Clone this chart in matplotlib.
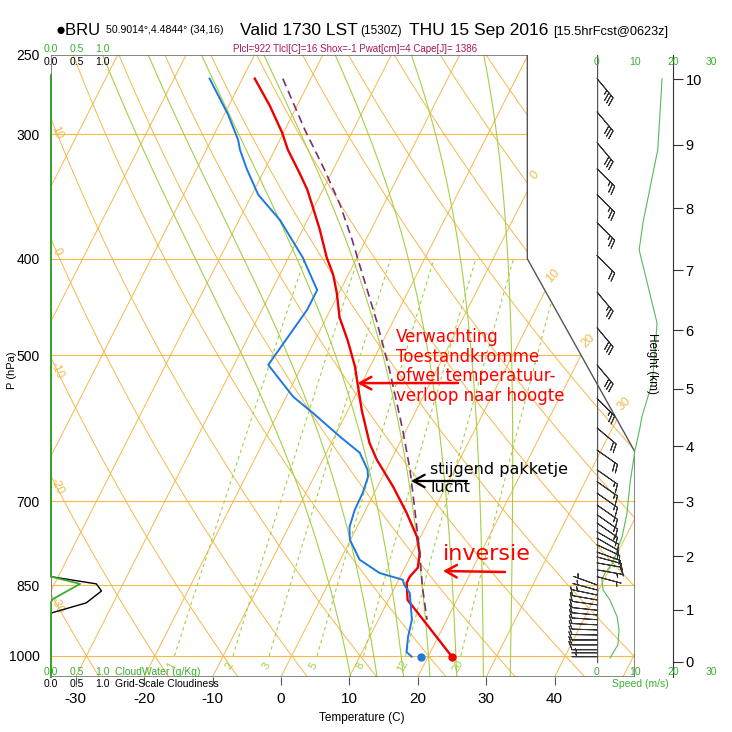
import numpy as np
import matplotlib
matplotlib.use('Agg')
import matplotlib.pyplot as plt
from matplotlib.patches import Polygon
from matplotlib.transforms import blended_transform_factory as blend

plt.rcParams['font.family'] = ['Liberation Sans', 'DejaVu Sans']

# temperatuur (rood)
p_temp = [264, 281, 299, 311, 328, 341, 355, 374, 399, 415, 433, 458, 483, 513, 533,
          567, 612, 636, 677, 719, 760, 789, 816, 833, 845, 879, 893, 1002]
t_temp = [-48.2, -44.0, -40.2, -38.1, -34.7, -32.3, -30.2, -27.5, -24.4, -22.2, -20.3,
          -18.1, -15.2, -12.2, -10.6, -8.0, -4.4, -2.1, 2.3, 6.2, 9.5, 11.1, 11.9,
          11.4, 11.4, 12.8, 14.1, 23.5]
# dauwpunt (blauw)
p_dew = [264, 287, 304, 311, 325, 345, 366, 399, 430, 450, 472, 511, 550, 571, 603,
         626, 651, 662, 687, 714, 743, 765, 801, 826, 839, 849, 865, 920, 957, 991, 1002]
td_dew = [-54.8, -49.4, -46.1, -45.1, -42.7, -39.1, -34.0, -27.9, -23.4, -23.4, -24.0,
          -25.0, -19.0, -14.9, -9.2, -5.1, -2.7, -2.1, -1.7, -1.6, -1.1, -0.1, 2.8,
          6.7, 10.6, 11.2, 12.6, 14.9, 15.6, 16.5, 17.6]
# stijgend pakketje
p_parcel = [264, 297, 326, 353, 383, 411, 461, 517, 594, 651, 709, 789, 853, 920]
t_parcel = [-44.1, -37.1, -31.2, -26.4, -22.0, -18.4, -12.5, -6.9, -0.5, 3.5, 6.9,
            11.1, 14.0, 17.1]
# oppervlakte
p_sfc = 1002
t_sfc = 23.5
td_sfc = 18.9

# windsnelheid (m/s)
p_speed = [264, 277, 311, 368, 392, 464, 494, 533, 576, 591, 622, 671, 719, 760,
           783, 807, 826, 839, 859, 879, 914, 942, 975, 1005]
speed = [17.1, 16.8, 16.0, 12.1, 11.1, 15.8, 15.3, 14.5, 11.8, 11.3, 10.0, 8.7, 7.9,
         6.6, 5.3, 4.2, 2.1, 1.3, 1.6, 3.4, 5.3, 5.8, 5.5, 3.4]

# windvaantjes (richting in graden, snelheid in knopen)
p_barb = [264, 285, 306, 325, 345, 368, 397, 432, 469, 511, 552, 591, 622, 651, 669,
          687, 706, 722, 736, 751, 762, 774, 787, 796, 807, 820, 833,
          849, 859, 869, 879, 889, 900, 910, 920, 931, 942, 953, 964, 975, 986, 993, 1002]
wdir = [140, 140, 140, 135, 135, 135, 135, 140, 140, 140, 135, 130, 125, 125, 125,
        125, 125, 125, 125, 120, 120, 115, 110, 105, 100, 100, 105,
        290, 285, 282, 280, 278, 276, 275, 274, 273, 272, 271, 270, 270, 270, 270, 270]
wspd = [33, 32, 30, 27, 25, 23, 22, 25, 30, 29, 27, 22, 20, 17, 16,
        15, 14, 14, 13, 12, 11, 10, 10, 9, 8, 7, 6,
        5, 6, 7, 8, 9, 10, 10, 10, 10, 10, 10, 10, 9, 8, 7, 6]

# bewolking
p_cloud = [262, 833, 847, 861, 885, 906, 1050]
cloudiness = [0, 0, 0.89, 0.99, 0.69, 0, 0]
p_cw = [262, 833, 847, 877, 883, 1050]
cloudwater = [0, 0, 0.57, 0.04, 0, 0]

pres_labels = [250, 300, 400, 500, 700, 850, 1000]
temp_ticks = [-30, -20, -10, 0, 10, 20, 30, 40]
height_km = list(range(11))
speed_ticks = [0, 10, 20, 30]
mix_ratios = [1, 2, 3, 5, 8, 12, 20]
moist_start = [8, 12, 16, 20, 24, 28, 32]

ORANGE = '#f3b94a'
LGREEN = '#a4cf47'
GREEN = '#3aae2e'


def yp(p):
    return 132.182 - 44.061 * np.log10(np.asarray(p, dtype=float))


def xt(t, p):
    return 0.54 * np.asarray(t, dtype=float) + 0.90692 * yp(p)


def esat(tc):
    return 6.1078 * np.exp(17.2693882 * tc / (tc + 237.3))


def wmix(tk, p):
    es = esat(tk - 273.15)
    return 622.0 * es / (p - es)


def os_of(tk, p):
    return tk * (1000.0 / p) ** 0.288 * np.exp(2.6518986 * wmix(tk, p) / tk)


def sat_adiabat(t0, pp):
    target = os_of(t0 + 273.15, 1000.0)
    lo = np.full(pp.shape, 173.15)
    hi = np.full(pp.shape, 318.15)
    for _ in range(60):
        mid = 0.5 * (lo + hi)
        above = os_of(mid, pp) > target
        hi = np.where(above, mid, hi)
        lo = np.where(above, lo, mid)
    return 0.5 * (lo + hi) - 273.15


W = 732
fig = plt.figure(figsize=(7.32, 7.32), dpi=100)


def fx(px):
    return px / W


def fy(py):
    return 1 - py / W


Y0, Y1 = float(yp(1050)), float(yp(250))
X0, X1 = -19.0, 27.1

ax = fig.add_axes([fx(51), fy(677), fx(635) - fx(51), fy(55) - fy(677)])
ax.set_xlim(X0, X1)
ax.set_ylim(Y0, Y1)
for s in ax.spines.values():
    s.set_visible(False)

frame = Polygon(np.column_stack([[X0, X1, X1, 18.6, 18.6, X0], [Y0, Y0, 9.0, 17.53, Y1, Y1]]),
                closed=True, fill=False, ec='#555555', lw=1.0, zorder=4)
ax.add_patch(frame)

pp = np.geomspace(1050, 250, 200)
yy = yp(pp)


def bx(y):
    return np.interp(y, [Y0, 9.0, 17.53, Y1], [X1, X1, 18.6, 18.6])


# isothermen
for t in range(-80, 60, 10):
    xs = xt(t, pp)
    ln, = ax.plot(xs, yy, color=ORANGE, lw=0.7, zorder=1)
    ln.set_clip_path(frame)
    if t in (0, 10, 20, 30):
        i = int(np.argmax(xs >= bx(yy)))
        ax.annotate(str(t), (xs[i], yy[i]), xytext=(5, 10), textcoords='offset points',
                    rotation=45, color=ORANGE, fontsize=9, ha='center', va='center')

# droog-adiabaten
for th in range(-40, 130, 10):
    tt = (th + 273.15) * (pp / 1000.0) ** 0.288 - 273.15
    xs = xt(tt, pp)
    ln, = ax.plot(xs, yy, color=ORANGE, lw=0.7, zorder=1)
    ln.set_clip_path(frame)
    if -30 <= th <= 10:
        i = int(np.argmax(xs <= -18.5))
        ax.text(xs[i], yy[i], str(th), rotation=-65, color=ORANGE, fontsize=8.5,
                ha='center', va='center')

# isobaren
for p in [300, 400, 500, 700, 850, 1000]:
    ln, = ax.plot([X0, X1], [yp(p), yp(p)], color=ORANGE, lw=0.8, zorder=1)
    ln.set_clip_path(frame)

# natte adiabaten
for t0 in moist_start:
    tm = sat_adiabat(t0, pp)
    ln, = ax.plot(xt(tm, pp), yy, color=LGREEN, lw=0.8, zorder=1)
    ln.set_clip_path(frame)

# mengverhoudingslijnen
pw = np.geomspace(1000, 400, 60)
for w in mix_ratios:
    e = w * pw / (622.0 + w)
    le = np.log(e / 6.112)
    tdw = 243.5 * le / (17.67 - le)
    ln, = ax.plot(xt(tdw, pw), yp(pw), color=LGREEN, lw=0.8, ls=(0, (3, 3)), zorder=1)
    ln.set_clip_path(frame)
    ax.text(xt(tdw[0], 1000) - 0.25, yp(1024), str(w), rotation=60, color=LGREEN,
            fontsize=8, ha='center', va='center')

# profielen
ax.plot(xt(t_temp, p_temp), yp(p_temp), color='#ee0000', lw=1.7, zorder=6)
ax.plot(xt(td_dew, p_dew), yp(p_dew), color='#1f78e0', lw=1.4, zorder=6)
ax.plot(xt(t_parcel, p_parcel), yp(p_parcel), color='#7b2f6e', lw=1.2,
        ls=(0, (5, 3)), zorder=6)
ax.plot(xt(t_sfc, p_sfc), yp(p_sfc), 'o', color='#ee0000', ms=5, zorder=7)
ax.plot(xt(td_sfc, p_sfc), yp(p_sfc), 'o', color='#1f78e0', ms=5, zorder=7)

ax.set_xticks(xt(temp_ticks, 1050))
ax.set_xticklabels([str(t) for t in temp_ticks])
ax.tick_params(axis='x', direction='out', length=6, width=0.8, color='#555555',
               labelsize=11, pad=5)
ax.set_yticks(yp(pres_labels))
ax.set_yticklabels([str(p) for p in pres_labels])
ax.tick_params(axis='y', length=0, pad=8, labelsize=10)

fig.text(fx(362), fy(718), 'Temperature (C)', fontsize=8.5, ha='center', va='center')
fig.text(fx(12), fy(370), 'P (hPa)', fontsize=8, rotation=90, ha='center', va='center')

# wind paneel
ax2 = fig.add_axes([fx(597), fy(677), fx(673) - fx(597), fy(55) - fy(677)])
ax2.set_xlim(0, 20)
ax2.set_ylim(Y0, Y1)
ax2.patch.set_visible(False)
for k in ('top', 'bottom', 'left'):
    ax2.spines[k].set_visible(False)
ax2.spines['right'].set_color('#333333')
ax2.set_xticks([])
p_h = 1013.25 * (1 - 2.25577e-5 * np.array(height_km) * 1000.0) ** 5.25588
ax2.yaxis.tick_right()
ax2.set_yticks(yp(p_h))
ax2.set_yticklabels([str(h) for h in height_km])
ax2.tick_params(axis='y', direction='out', length=7, width=0.8, color='#333333',
                labelsize=10.5, pad=2)
ax2.axvline(0, ymin=(yp(p_h[0]) - Y0) / (Y1 - Y0), ymax=1, color='#555555', lw=1.0)

ax2.plot(speed, yp(p_speed), color='#55bb55', lw=0.8, zorder=3)

rad = np.radians(wdir)
u = -np.array(wspd) * np.sin(rad)
v = -np.array(wspd) * np.cos(rad)
ax2.barbs(np.zeros(len(p_barb)), yp(p_barb), u, v, length=6.0, pivot='tip',
          lw=0.7, color='#333333', sizes=dict(height=0.33, spacing=0.13, emptybarb=0.0),
          clip_on=False, zorder=4)

tr2 = blend(ax2.transData, ax2.transAxes)
for s in speed_ticks:
    ax2.text(s, 1 - 7 / 622, str(s), transform=tr2, color=GREEN, fontsize=7.5,
             ha='center', va='center', clip_on=False)
    ax2.text(s, 5 / 622, str(s), transform=tr2, color=GREEN, fontsize=7.5,
             ha='center', va='center', clip_on=False)
fig.text(fx(640), fy(684), 'Speed (m/s)', color=GREEN, fontsize=7.5, ha='center', va='center')
fig.text(fx(652), fy(363), 'Height (km)', rotation=270, fontsize=8.5, ha='center', va='center')

# bewolking paneel
ax3 = fig.add_axes([fx(51), fy(677), fx(102) - fx(51), fy(55) - fy(677)])
ax3.set_xlim(0, 1)
ax3.set_ylim(Y0, Y1)
ax3.axis('off')
ax3.plot(cloudiness, yp(p_cloud), color='black', lw=1.0, clip_on=False, zorder=3)
ax3.plot(cloudwater, yp(p_cw), color=GREEN, lw=1.3, clip_on=False, zorder=4)
tr3 = blend(ax3.transData, ax3.transAxes)
for val in (0.0, 0.5, 1.0):
    ax3.text(val, 1 + 6 / 622, f'{val:.1f}', transform=tr3, color=GREEN, fontsize=7.5,
             ha='center', va='center')
    ax3.text(val, 1 - 7 / 622, f'{val:.1f}', transform=tr3, color='black', fontsize=7.5,
             ha='center', va='center')
    ax3.text(val, 5 / 622, f'{val:.1f}', transform=tr3, color=GREEN, fontsize=7.5,
             ha='center', va='center')
    ax3.text(val, -7 / 622, f'{val:.1f}', transform=tr3, color='black', fontsize=7.5,
             ha='center', va='center')
ax3.text(1.25, 5 / 622, 'CloudWater (g/Kg)', transform=tr3, color=GREEN, fontsize=7.5,
         ha='left', va='center')
ax3.text(1.25, -7 / 622, 'Grid-Scale Cloudiness', transform=tr3, color='black',
         fontsize=7.5, ha='left', va='center')

# titel
fig.text(fx(56), fy(35), '\u25cfBRU', fontsize=12, va='baseline')
fig.text(fx(106), fy(33), '50.9014\u00b0,4.4844\u00b0 (34,16)', fontsize=7.6, va='baseline')
fig.text(fx(240), fy(35), 'Valid 1730 LST', fontsize=12.5, va='baseline')
fig.text(fx(360), fy(34), '(1530Z)', fontsize=8.5, va='baseline')
fig.text(fx(409), fy(35), 'THU 15 Sep 2016', fontsize=12.5, va='baseline')
fig.text(fx(553), fy(35), '[15.5hrFcst@0623z]', fontsize=9.2, va='baseline')
fig.text(fx(233), fy(52), 'Plcl=922 Tlcl[C]=16 Shox=-1 Pwat[cm]=4 Cape[J]= 1386',
         fontsize=7, color='#a8155a', va='baseline')

# annotaties
fig.text(fx(396), fy(328), 'Verwachting\nToestandkromme\nofwel temperatuur-\nverloop naar hoogte',
         color='red', fontsize=12, family='DejaVu Sans', ha='left', va='top', linespacing=1.12)
ax.annotate('', xy=(xt(t_temp[14], p_temp[14]), yp(p_temp[14])), xycoords='data',
            xytext=(fx(458), fy(383)), textcoords='figure fraction',
            arrowprops=dict(arrowstyle='->,head_length=0.45,head_width=0.25', color='red',
                            lw=1.8, mutation_scale=18, shrinkA=0, shrinkB=0), zorder=8)

fig.text(fx(430), fy(462), 'stijgend pakketje\nlucht', color='black', fontsize=11.5,
         family='DejaVu Sans', ha='left', va='top', linespacing=1.25)
t_arrow = np.interp(668, p_parcel, t_parcel)
ax.annotate('', xy=(xt(t_arrow, 668), yp(668)), xycoords='data',
            xytext=(fx(467), fy(481)), textcoords='figure fraction',
            arrowprops=dict(arrowstyle='->,head_length=0.45,head_width=0.25', color='black',
                            lw=1.6, mutation_scale=18, shrinkA=0, shrinkB=0), zorder=8)

fig.text(fx(443), fy(560), 'inversie', color='red', fontsize=16, family='DejaVu Sans',
         ha='left', va='baseline')
ax.annotate('', xy=(fx(443), fy(571)), xycoords='figure fraction',
            xytext=(fx(505), fy(572)), textcoords='figure fraction',
            arrowprops=dict(arrowstyle='->,head_length=0.45,head_width=0.25', color='red',
                            lw=1.8, mutation_scale=18, shrinkA=0, shrinkB=0), zorder=8)

fig.savefig('out.png', dpi=100)
